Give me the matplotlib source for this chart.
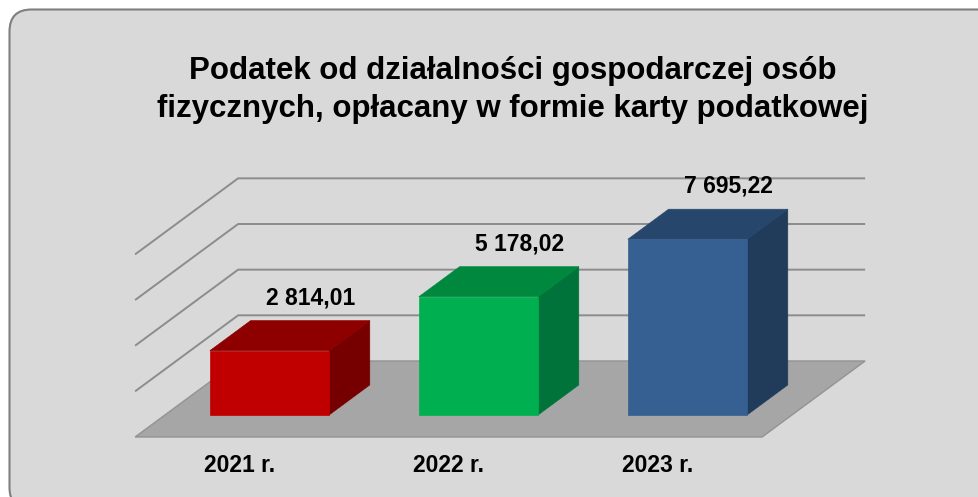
import numpy as np
import matplotlib.pyplot as plt
from matplotlib.patches import Polygon, FancyBboxPatch

plt.rcParams['font.family'] = ['Liberation Sans', 'DejaVu Sans']

# data
years = ['2021 r.', '2022 r.', '2023 r.']
values = [2814.01, 5178.02, 7695.22]
value_labels = ['2 814,01', '5 178,02', '7 695,22']
grid_ticks = [2000, 4000, 6000, 8000]
title = 'Podatek od działalności gospodarczej osób\nfizycznych, opłacany w formie karty podatkowej'

front_col = ['#c00000', '#00b050', '#366092']
top_col = ['#8e0000', '#00883e', '#27466c']
side_col = ['#760000', '#00733a', '#213b5b']

# oblique "3D" projection: depth z in [0, 1] shifts right and up
DX = 0.493      # category units per full depth
DY = 3330.0     # value units per full depth
Z0, Z1 = 0.29, 0.685   # bar depth range
HALF_W = 0.285         # half bar width


def proj(x, v, z):
    return (x + z * DX, v + z * DY)


W, H = 979, 497
fig = plt.figure(figsize=(W / 100, H / 100), dpi=100)

# background panel with rounded border
ax_bg = fig.add_axes([0, 0, 1, 1])
ax_bg.set_xlim(0, W)
ax_bg.set_ylim(H, 0)
ax_bg.axis('off')
ax_bg.add_patch(FancyBboxPatch((9.5, 9.5), 990, 500,
                               boxstyle='round,pad=0,rounding_size=22',
                               facecolor='#d9d9d9', edgecolor='#7f7f7f', lw=1.5))

# chart axes, scaled so one category step = 209 px and 1000 = 22.83 px
px_cat = 209.0
px_val = 1000 / 22.83
x_origin, y_origin = 239.6, 437.0
ax = fig.add_axes([0, 0, 1, 1])
ax.set_xlim(-x_origin / px_cat, (W - x_origin) / px_cat)
ax.set_ylim((y_origin - H) * px_val, y_origin * px_val)
ax.axis('off')
ax.patch.set_alpha(0)

n = len(values)
left, right = -0.5, n - 0.5
grid_c = '#8c8c8c'

# walls grid lines
for g in grid_ticks:
    pts = [proj(left, g, 0), proj(left, g, 1), proj(right, g, 1)]
    xs, ys = zip(*pts)
    ax.plot(xs, ys, color=grid_c, lw=1.4, solid_capstyle='butt', zorder=1)

# floor
floor = [proj(left, 0, 0), proj(right, 0, 0), proj(right, 0, 1), proj(left, 0, 1)]
ax.add_patch(Polygon(floor, closed=True, facecolor='#a6a6a6',
                     edgecolor='#939393', lw=1, zorder=2))

# bars
for i, v in enumerate(values):
    x0, x1 = i - HALF_W, i + HALF_W
    face = [proj(x0, 0, Z0), proj(x1, 0, Z0), proj(x1, v, Z0), proj(x0, v, Z0)]
    topf = [proj(x0, v, Z0), proj(x1, v, Z0), proj(x1, v, Z1), proj(x0, v, Z1)]
    sidef = [proj(x1, 0, Z0), proj(x1, 0, Z1), proj(x1, v, Z1), proj(x1, v, Z0)]
    ax.add_patch(Polygon(sidef, closed=True, facecolor=side_col[i],
                         edgecolor=side_col[i], lw=0.5, zorder=3))
    ax.add_patch(Polygon(topf, closed=True, facecolor=top_col[i],
                         edgecolor=top_col[i], lw=0.5, zorder=3))
    ax.add_patch(Polygon(face, closed=True, facecolor=front_col[i],
                         edgecolor=front_col[i], lw=0.5, zorder=4))
    lx, ly = proj(i, v, Z1)
    ax.text(lx, ly + 500, value_labels[i], ha='center', va='bottom',
            fontsize=16.5, fontweight='bold', color='black', zorder=5)

# category labels
for i, yr in enumerate(years):
    lx, _ = proj(i, 0, 0)
    ax.text(lx, -29 * px_val, yr, ha='center', va='center',
            fontsize=16.5, fontweight='bold', color='black')

fig.text(513 / W, 1 - 90 / H, title, ha='center', va='center',
         fontsize=22.5, fontweight='bold', linespacing=1.32)

fig.savefig('out.png', dpi=100, facecolor='white')
